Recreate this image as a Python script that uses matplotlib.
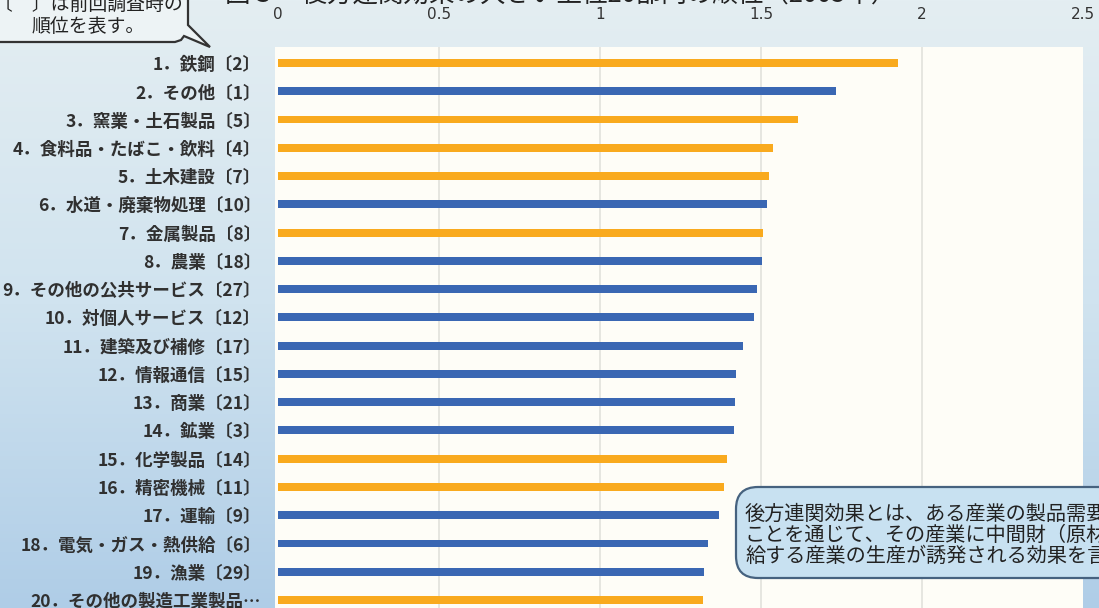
import numpy as np
import matplotlib.pyplot as plt
from matplotlib.patches import FancyBboxPatch, Polygon
from matplotlib.colors import LinearSegmentedColormap

plt.rcParams['font.family'] = ['Noto Sans CJK JP', 'DejaVu Sans']

# sectors ranked by backward linkage, [n] = rank in the previous survey
sectors = [
    "1．鉄鋼〔2〕", "2．その他〔1〕", "3．窯業・土石製品〔5〕",
    "4．食料品・たばこ・飲料〔4〕", "5．土木建設〔7〕", "6．水道・廃棄物処理〔10〕",
    "7．金属製品〔8〕", "8．農業〔18〕", "9．その他の公共サービス〔27〕",
    "10．対個人サービス〔12〕", "11．建築及び補修〔17〕", "12．情報通信〔15〕",
    "13．商業〔21〕", "14．鉱業〔3〕", "15．化学製品〔14〕", "16．精密機械〔11〕",
    "17．運輸〔9〕", "18．電気・ガス・熱供給〔6〕", "19．漁業〔29〕",
    "20．その他の製造工業製品…",
]
values = [1.925, 1.733, 1.615, 1.537, 1.525, 1.519, 1.506, 1.503, 1.488, 1.478,
          1.444, 1.422, 1.419, 1.416, 1.394, 1.385, 1.370, 1.335, 1.323, 1.320]
highlight = [1, 0, 1, 1, 1, 0, 1, 0, 0, 0, 0, 0, 0, 0, 1, 1, 0, 0, 0, 1]
xticks = [0, 0.5, 1, 1.5, 2, 2.5]
xticklabels = ["0", "0.5", "1", "1.5", "2", "2.5"]

W, H = 1099, 608
fig = plt.figure(figsize=(W / 100, H / 100), dpi=100)

def fx(px):
    return px / W

def fy(py):
    return 1 - py / H

# pale blue backdrop, darker toward the bottom
bg = fig.add_axes([0, 0, 1, 1], zorder=0)
grad = LinearSegmentedColormap.from_list("bg", ["#e4eef2", "#d0e3ef", "#afcde7"])
bg.imshow(np.linspace(0, 1, 256)[:, None], aspect="auto", cmap=grad,
          extent=[0, 1, 0, 1], origin="upper")
bg.set_xlim(0, 1)
bg.set_ylim(0, 1)
bg.axis("off")

ax = fig.add_axes([fx(275), 0, fx(1083) - fx(275), fy(47)], zorder=1)
ax.set_facecolor("#fefdf7")
y = np.arange(len(sectors))
colors = ["#f9aa1e" if h else "#3a67b3" for h in highlight]
ax.barh(y, values, height=0.28, color=colors, zorder=3)

ax.set_xlim(-0.0093, 2.5)
ax.set_ylim(19.283, -0.566)
ax.xaxis.tick_top()
ax.set_xticks(xticks)
ax.set_xticklabels(xticklabels, fontsize=11, color="#333333",
                   family=["DejaVu Sans"])
ax.tick_params(axis="x", length=0, pad=18)
ax.set_yticks(y)
ax.set_yticklabels(sectors, fontsize=12.6, color="#303030", fontweight="bold")
ax.tick_params(axis="y", length=0, pad=10)
for s in ax.spines.values():
    s.set_visible(False)
for g in xticks[1:-1]:
    ax.axvline(g, color="#e2e2dc", lw=1.2, zorder=1)

# title, mostly above the top edge
fig.text(fx(225), fy(9), "図３　後方連関効果の大きい上位20部門の順位（2005年）",
         fontsize=18.4, color="#222222", va="bottom", ha="left")

# speech bubble, top left
bubble = [(-5, -10), (188, -10), (188, 25), (210, 47), (184, 36), (181, 40),
          (175, 42), (-5, 42)]
fig.add_artist(Polygon([(fx(a), fy(b)) for a, b in bubble], closed=True,
                       transform=fig.transFigure, facecolor="#edf3f5",
                       edgecolor="#333333", lw=1.6, zorder=5))
fig.text(fx(88), fy(4), "〔　〕は前回調査時の", fontsize=13.6, color="#222222",
         ha="center", va="center", zorder=6)
fig.text(fx(88), fy(27), "順位を表す。", fontsize=13.6, color="#222222",
         ha="center", va="center", zorder=6)

# note box, bottom right
note = FancyBboxPatch((fx(736), fy(578)), fx(420), fy(487) - fy(578),
                      boxstyle="round,pad=0,rounding_size=0.02",
                      transform=fig.transFigure, facecolor="#c8e1f1",
                      edgecolor="#46627f", lw=1.6, zorder=5,
                      mutation_aspect=W / H)
fig.add_artist(note)
lines = ["後方連関効果とは、ある産業の製品需要が増加する",
         "ことを通じて、その産業に中間財（原材料等）を供",
         "給する産業の生産が誘発される効果を言う。"]
for i, t in enumerate(lines):
    fig.text(fx(745), fy(514 + 21 * i), t, fontsize=14.5, color="#222222",
             ha="left", va="center", zorder=6)

fig.savefig("out.png", dpi=100)
